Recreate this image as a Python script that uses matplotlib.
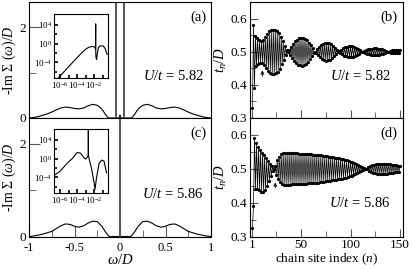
import numpy as np
import matplotlib.pyplot as plt
from matplotlib.ticker import MultipleLocator, FixedLocator, NullFormatter

plt.rcParams['font.family'] = 'Liberation Serif'
plt.rcParams['mathtext.fontset'] = 'custom'
plt.rcParams['mathtext.rm'] = 'Liberation Serif'
plt.rcParams['mathtext.it'] = 'Liberation Serif:italic'
plt.rcParams['font.size'] = 8

# -Im Sigma(w)/D, continuum part
w_a = [-1.0, -0.95, -0.9, -0.85, -0.8, -0.75, -0.7, -0.65, -0.6, -0.55, -0.5, -0.45,
       -0.4, -0.35, -0.3, -0.25, -0.2, -0.16, -0.13, 0.13, 0.16, 0.2, 0.25, 0.3, 0.35,
       0.4, 0.45, 0.5, 0.55, 0.6, 0.65, 0.7, 0.75, 0.8, 0.85, 0.9, 0.95, 1.0]
sig_a = [0.0, 0.01, 0.03, 0.06, 0.09, 0.13, 0.18, 0.22, 0.24, 0.23, 0.21, 0.2,
         0.22, 0.27, 0.3, 0.28, 0.2, 0.08, 0.0, 0.0, 0.08, 0.2, 0.28, 0.3, 0.27,
         0.22, 0.2, 0.21, 0.23, 0.24, 0.22, 0.18, 0.13, 0.09, 0.06, 0.03, 0.01, 0.0]
w_c = [-1.0, -0.95, -0.9, -0.85, -0.8, -0.75, -0.7, -0.65, -0.6, -0.55, -0.5, -0.45,
       -0.4, -0.35, -0.3, -0.25, -0.2, -0.16, -0.12, 0.12, 0.16, 0.2, 0.25, 0.3, 0.35,
       0.4, 0.45, 0.5, 0.55, 0.6, 0.65, 0.7, 0.75, 0.8, 0.85, 0.9, 0.95, 1.0]
sig_c = [0.0, 0.01, 0.03, 0.05, 0.08, 0.11, 0.17, 0.23, 0.27, 0.26, 0.22, 0.2,
         0.23, 0.29, 0.33, 0.32, 0.22, 0.1, 0.0, 0.0, 0.1, 0.22, 0.32, 0.33, 0.29,
         0.23, 0.2, 0.22, 0.26, 0.27, 0.23, 0.17, 0.11, 0.08, 0.05, 0.03, 0.01, 0.0]
poles_a = [-0.044, 0.044]
poles_c = [0.0]

# insets: -Im Sigma on log-log scale
inw_a = [6.3e-7, 1e-5, 1e-4, 5e-4, 1e-3, 2e-3, 4e-3, 8e-3, 1.25e-2, 1.5e-2, 1.58e-2,
         1.6e-2, 1.66e-2, 2e-2, 2.4e-2, 3.2e-2, 4.5e-2, 7e-2, 0.125, 0.2, 0.35]
insig_a = [5e-8, 1.2e-5, 1e-3, 2e-2, 6e-2, 0.14, 0.22, 0.25, 0.16, 6e-2, 1.6e4,
           3e-2, 2e-3, 4e-4, 6e-3, 0.12, 0.3, 0.35, 0.3, 0.1, 5e-3]
inw_c = [2.2e-7, 1e-6, 6e-6, 3e-5, 1e-4, 2.5e-4, 6e-4, 1e-3, 1.6e-3, 2.1e-3, 2.15e-3,
         2.2e-3, 2.6e-3, 5e-3, 1e-2, 1.3e-2, 2e-2, 4e-2, 8e-2, 0.15, 0.3]
insig_c = [3e-4, 2e-3, 8e-2, 1.2, 20.0, 15.0, 2.0, 0.8, 2.0, 6.0, 1e7,
           8.0, 1.0, 1e-2, 1e-5, 3e-7, 1e-4, 0.1, 0.5, 0.3, 1e-3]

# chain hopping t_n/D
sites = np.arange(1, 151)
tn_b = [0.330, 0.580, 0.390, 0.546, 0.456, 0.541, 0.462, 0.535, 0.467, 0.532,
        0.467, 0.536, 0.460, 0.545, 0.450, 0.554, 0.442, 0.561, 0.437, 0.565,
        0.434, 0.567, 0.433, 0.566, 0.435, 0.563, 0.440, 0.556, 0.449, 0.545,
        0.462, 0.531, 0.476, 0.517, 0.490, 0.504, 0.499, 0.505, 0.490, 0.514,
        0.481, 0.523, 0.473, 0.531, 0.466, 0.536, 0.461, 0.540, 0.459, 0.542,
        0.458, 0.541, 0.460, 0.539, 0.464, 0.534, 0.470, 0.527, 0.477, 0.519,
        0.486, 0.510, 0.495, 0.500, 0.496, 0.507, 0.489, 0.514, 0.483, 0.520,
        0.478, 0.524, 0.475, 0.526, 0.473, 0.527, 0.474, 0.525, 0.476, 0.522,
        0.480, 0.517, 0.486, 0.511, 0.493, 0.504, 0.500, 0.502, 0.496, 0.506,
        0.492, 0.510, 0.488, 0.513, 0.486, 0.515, 0.484, 0.517, 0.483, 0.517,
        0.483, 0.516, 0.485, 0.514, 0.487, 0.512, 0.490, 0.508, 0.494, 0.504,
        0.498, 0.500, 0.499, 0.502, 0.496, 0.505, 0.494, 0.507, 0.493, 0.508,
        0.491, 0.509, 0.490, 0.510, 0.490, 0.510, 0.490, 0.509, 0.491, 0.508,
        0.493, 0.507, 0.494, 0.505, 0.496, 0.502, 0.499, 0.500, 0.499, 0.502,
        0.497, 0.504, 0.496, 0.505, 0.495, 0.505, 0.495, 0.505, 0.496, 0.504]
tn_d = [0.325, 0.390, 0.590, 0.440, 0.575, 0.440, 0.565, 0.436, 0.556, 0.432,
        0.548, 0.432, 0.540, 0.437, 0.531, 0.448, 0.522, 0.464, 0.514, 0.480,
        0.507, 0.494, 0.500, 0.508, 0.483, 0.525, 0.469, 0.536, 0.460, 0.543,
        0.455, 0.546, 0.453, 0.547, 0.453, 0.547, 0.453, 0.547, 0.453, 0.547,
        0.454, 0.546, 0.454, 0.546, 0.454, 0.546, 0.455, 0.545, 0.455, 0.545,
        0.455, 0.545, 0.456, 0.544, 0.456, 0.544, 0.457, 0.543, 0.457, 0.543,
        0.458, 0.542, 0.458, 0.542, 0.459, 0.541, 0.459, 0.540, 0.460, 0.540,
        0.461, 0.539, 0.462, 0.538, 0.463, 0.537, 0.464, 0.536, 0.465, 0.535,
        0.466, 0.534, 0.467, 0.533, 0.468, 0.532, 0.469, 0.531, 0.470, 0.530,
        0.471, 0.528, 0.473, 0.526, 0.474, 0.525, 0.476, 0.523, 0.478, 0.521,
        0.480, 0.519, 0.482, 0.517, 0.484, 0.515, 0.487, 0.512, 0.490, 0.509,
        0.493, 0.506, 0.496, 0.503, 0.499, 0.500, 0.498, 0.504, 0.494, 0.507,
        0.491, 0.510, 0.489, 0.512, 0.487, 0.514, 0.486, 0.515, 0.485, 0.515,
        0.485, 0.515, 0.485, 0.515, 0.485, 0.514, 0.486, 0.514, 0.487, 0.513,
        0.488, 0.512, 0.489, 0.511, 0.490, 0.510, 0.490, 0.509, 0.491, 0.509]
arrow_b = 11
arrow_d = 24

W, H = 415, 269
fig = plt.figure(figsize=(W / 100, H / 100), dpi=100)

def box(x0, y0, x1, y1):
    return [x0 / W, (H - y1) / H, (x1 - x0) / W, (y1 - y0) / H]

axA = fig.add_axes(box(29, 2, 211, 118))
axC = fig.add_axes(box(29, 118, 211, 236.5))
axB = fig.add_axes(box(250, 2, 403, 118))
axD = fig.add_axes(box(250, 118, 403, 236.5))
inA = fig.add_axes(box(54.3, 14, 108.3, 78))
inC = fig.add_axes(box(54.3, 129, 108.3, 193))

gray = '#555555'
for ax, w, s, poles, lab, txt in [(axA, w_a, sig_a, poles_a, '(a)', '5.82'),
                                  (axC, w_c, sig_c, poles_c, '(c)', '5.86')]:
    ax.plot(w, s, color='black', lw=0.8)
    ax.vlines(poles, 0, 2.6, color=gray, lw=1.4)
    ax.set_xlim(-1, 1)
    ax.set_ylim(0, 2.55)
    ax.yaxis.set_major_locator(FixedLocator([0, 2]))
    ax.yaxis.set_minor_locator(FixedLocator([1]))
    ax.xaxis.set_major_locator(MultipleLocator(0.5))
    ax.xaxis.set_minor_locator(MultipleLocator(0.25))
    ax.tick_params(which='both', direction='in', top=False, right=False,
                   labelsize=9.5, pad=2)
    ax.tick_params(which='major', length=8, color=gray)
    ax.tick_params(which='minor', length=5, color=gray)
    ax.set_ylabel(r'-Im $\Sigma$ ($\omega$)/$D$', fontsize=10, labelpad=1)
    ax.text(0.975, 0.93, lab, transform=ax.transAxes, ha='right', va='top', fontsize=10.5)
    ax.text(0.96, 0.36, r'$U/t$ = ' + txt, transform=ax.transAxes, ha='right',
            va='center', fontsize=10.5)
axA.annotate('', xy=(0, 0.13), xytext=(0, 0),
             arrowprops=dict(arrowstyle='->', color='black', lw=0.7, mutation_scale=5))
axA.tick_params(axis='x', which='both', length=0, labelbottom=False)
axC.tick_params(axis='x', which='both', pad=4, labelsize=9)
axC.xaxis.set_major_formatter(lambda v, p: '%g' % v)
axC.set_xlabel(r'$\omega$/$D$', fontsize=10.5, labelpad=-1)

for ax, x, y in [(inA, inw_a, insig_a), (inC, inw_c, insig_c)]:
    ax.loglog(x, y, color='black', lw=0.8)
    ax.set_xlim(10 ** -6.67, 10 ** -0.32)
    ax.set_ylim(10 ** -7.3, 10 ** 6.3)
    ax.xaxis.set_major_locator(FixedLocator([1e-6, 1e-4, 1e-2]))
    ax.xaxis.set_minor_locator(FixedLocator([1e-5, 1e-3, 1e-1]))
    ax.yaxis.set_major_locator(FixedLocator([1e-4, 1, 1e4]))
    ax.yaxis.set_minor_locator(FixedLocator([1e-6, 1e-2, 1e2]))
    ax.xaxis.set_minor_formatter(NullFormatter())
    ax.yaxis.set_minor_formatter(NullFormatter())
    ax.tick_params(which='both', direction='in', labelsize=6.5, pad=1.5, width=1.2)
    ax.tick_params(which='major', length=3)
    ax.tick_params(which='minor', length=2)

for ax, t, na, lab, txt in [(axB, tn_b, arrow_b, '(b)', '5.82'),
                            (axD, tn_d, arrow_d, '(d)', '5.86')]:
    ax.plot(sites, t, color='black', lw=0.5, marker='o', ms=2.3, mec='black', mew=0)
    ax.set_xlim(-1.5, 153)
    ax.set_ylim(0.3, 0.65)
    ax.xaxis.set_major_locator(FixedLocator([1, 50, 100, 150]))
    ax.xaxis.set_minor_locator(FixedLocator([25, 75, 125]))
    ax.yaxis.set_major_locator(MultipleLocator(0.1))
    ax.yaxis.set_minor_locator(MultipleLocator(0.05))
    ax.tick_params(which='both', direction='in', labelsize=9.5, pad=2, color=gray)
    ax.tick_params(which='major', length=6)
    ax.tick_params(which='minor', length=4)
    ax.set_ylabel(r'$t_n$/$D$', fontsize=10.5, labelpad=1)
    ax.text(0.965, 0.93, lab, transform=ax.transAxes, ha='right', va='top', fontsize=10.5)
    ax.text(0.92, 0.36 if ax is axB else 0.28, r'$U/t$ = ' + txt, transform=ax.transAxes,
            ha='right', va='center', fontsize=10.5)
axB.annotate('', xy=(arrow_b, 0.452), xytext=(arrow_b, 0.418),
             arrowprops=dict(arrowstyle='->', color='black', lw=0.7, mutation_scale=5))
axD.annotate('', xy=(arrow_d, 0.468), xytext=(arrow_d, 0.436),
             arrowprops=dict(arrowstyle='->', color='black', lw=0.7, mutation_scale=5))
axB.tick_params(axis='x', labelbottom=False)
axD.set_xlabel(r'chain site index ($n$)', fontsize=9.5, labelpad=0)

fig.savefig('out.png', dpi=100)
